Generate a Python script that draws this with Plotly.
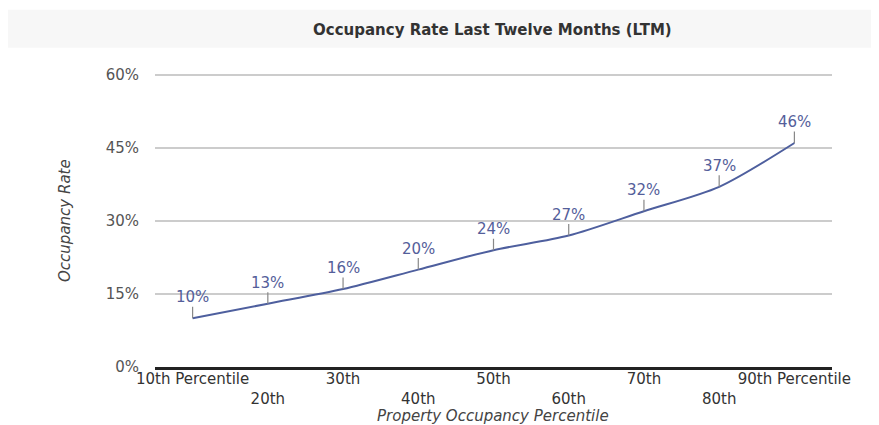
import plotly.graph_objects as go

categories = ["10th", "20th", "30th", "40th", "50th", "60th", "70th", "80th", "90th"]
tick_labels = ["10th Percentile", "20th", "30th", "40th", "50th", "60th", "70th", "80th", "90th Percentile"]
occupancy = [10, 13, 16, 20, 24, 27, 32, 37, 46]
y_ticks = [0, 15, 30, 45, 60]
y_tick_labels = ["0%", "15%", "30%", "45%", "60%"]

FONT = "DejaVu Sans"
FS = 15
x_idx = list(range(len(categories)))
ticktext = [t if i % 2 == 0 else "<br>" + t for i, t in enumerate(tick_labels)]

# page geometry (page has an 8px body offset)
PL, PR, PT, PB = 155, 832, 367 - 292 * 61 / 60, 367
PW, PH = PR - PL, PB - PT


def px(x):
    return (x - PL) / PW


def py(y):
    return (PB - y) / PH


fig = go.Figure()
fig.add_trace(go.Scatter(
    x=x_idx, y=occupancy, mode="lines",
    line=dict(color="#4e5f9e", width=2, shape="spline", smoothing=0.8),
    hoverinfo="skip", showlegend=False,
))

for xi, v in zip(x_idx, occupancy):
    fig.add_annotation(
        x=xi, y=v, xref="x", yref="y",
        text=f"{v}%", showarrow=True, arrowhead=0, arrowwidth=1.2,
        arrowcolor="#888888", ax=0, ay=-21, standoff=0,
        font=dict(family=FONT, size=FS, color="#545e9a"),
        borderpad=0,
    )

# title band
fig.add_shape(type="rect", xref="paper", yref="paper",
              x0=px(0), x1=px(879), y0=py(48), y1=py(10),
              fillcolor="#f7f7f7", line=dict(width=0), layer="below")
fig.add_annotation(
    xref="paper", yref="paper", x=px(492), y=py(30),
    text="<b>Occupancy Rate Last Twelve Months (LTM)</b>", showarrow=False,
    font=dict(family=FONT, size=FS, color="#333333"),
    xanchor="center", yanchor="middle",
)
fig.add_annotation(
    xref="paper", yref="paper", x=px(65), y=py(221),
    text="<i>Occupancy Rate</i>", showarrow=False, textangle=-90,
    font=dict(family=FONT, size=FS, color="#444444"),
    xanchor="center", yanchor="middle",
)
fig.add_annotation(
    xref="paper", yref="paper", x=px(493), y=py(416),
    text="<i>Property Occupancy Percentile</i>", showarrow=False,
    font=dict(family=FONT, size=FS, color="#444444"),
    xanchor="center", yanchor="middle",
)

fig.update_layout(
    width=871, height=417,
    margin=dict(l=PL - 8, r=871 - (PR - 8), t=round(PT - 8), b=417 - (PB - 8)),
    paper_bgcolor="white", plot_bgcolor="white",
    font=dict(family=FONT, size=FS, color="#333333"),
    xaxis=dict(
        range=[-0.5, 8.5], tickmode="array", tickvals=x_idx, ticktext=ticktext,
        showgrid=False, zeroline=False, showline=True, linecolor="#222222",
        linewidth=3, ticks="", tickangle=0, automargin=False,
        ticklabelstandoff=-4,
        tickfont=dict(family=FONT, size=FS, color="#333333"),
        fixedrange=True,
    ),
    yaxis=dict(
        range=[0, 61], tickmode="array", tickvals=y_ticks, ticktext=y_tick_labels,
        showgrid=True, gridcolor="#cccccc", gridwidth=1.5, zeroline=False,
        showline=False, ticks="outside", ticklen=12, tickcolor="rgba(0,0,0,0)",
        automargin=False,
        tickfont=dict(family=FONT, size=FS, color="#555555"), fixedrange=True,
    ),
)

fig.write_html("out.html")
